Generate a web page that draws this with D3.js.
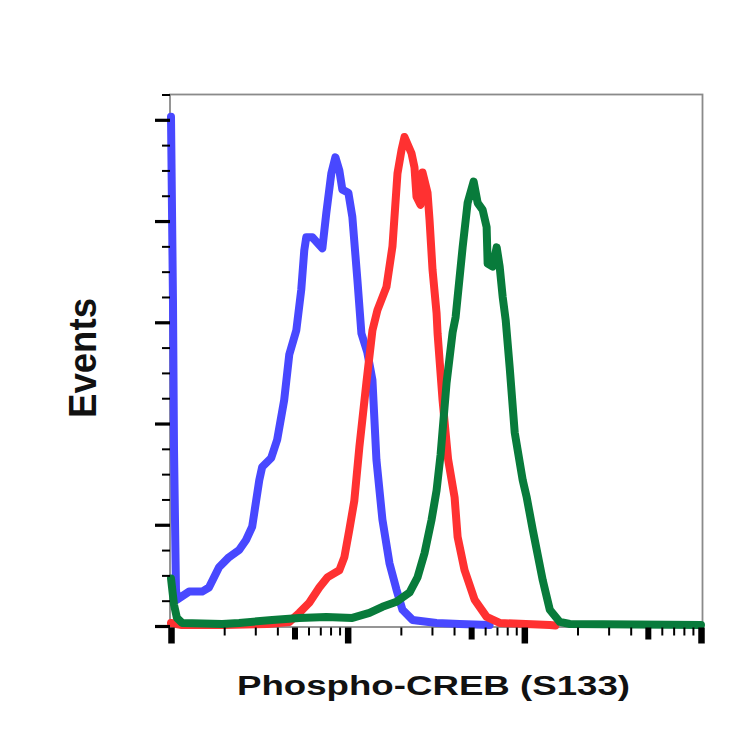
<!DOCTYPE html>
<html lang="en">
<head>
    <meta charset="UTF-8">
    <title>Phospho-CREB (S133) histogram</title>
    <script src="https://d3js.org/d3.v7.min.js"></script>
    <style>
        html, body {
            margin: 0;
            padding: 0;
            background: #fff;
        }

        svg {
            font-family: "Liberation Sans", Arial, sans-serif;
        }

        .axis-label {
            font-weight: bold;
            fill: #111;
        }
    </style>
</head>
<body>
    <div id="chart"></div>

    <script>
        // Series values: [fluorescence, events]
        const blueSeries = [
            [100, 503], [102.6, 322], [104, 174], [106.7, 36], [108.2, 26], [126.5, 34],
            [150, 34], [164, 38], [187, 58], [213, 68], [243, 75], [266, 85], [288, 98],
            [316, 144], [328, 157], [369, 166], [399, 184], [437, 223], [467, 268],
            [512, 292], [546, 332], [568, 371], [583, 384], [631, 384], [719, 373],
            [757, 408], [808, 447], [852, 463], [897, 450], [933, 431], [1009, 428],
            [1063, 404], [1135, 342], [1196, 289], [1293, 270], [1381, 243], [1455, 164],
            [1573, 105], [1724, 62], [1889, 36], [2043, 16], [2328, 6], [3186, 3],
            [4302, 2], [6364, 1]
        ];

        const redSeries = [
            [100, 3], [115, 1], [200, 1], [350, 2], [467, 4], [532, 13], [606, 23],
            [691, 38], [767, 48], [897, 55], [958, 68], [1022, 95], [1091, 124],
            [1165, 177], [1276, 240], [1381, 292], [1474, 312], [1658, 335], [1793, 375],
            [1914, 447], [2017, 470], [2097, 483], [2298, 467], [2389, 453], [2453, 424],
            [2584, 416], [2653, 448], [2832, 428], [2907, 401], [3022, 352], [3186, 309],
            [3228, 289], [3445, 223], [3700, 165], [4030, 127], [4191, 88], [4591, 55],
            [5232, 26], [6118, 9], [7251, 3], [13940, 1], [15000, 0.5]
        ];

        const greenSeries = [
            [100, 47], [104, 21], [108, 8], [115.5, 3], [195, 2], [243, 3], [374, 6],
            [532, 8], [757, 9], [1063, 8], [1328, 13], [1573, 19], [1889, 24],
            [2239, 33], [2485, 48], [2724, 72], [2985, 105], [3186, 134], [3356, 169],
            [3629, 240], [3926, 290], [4083, 305], [4474, 374], [4775, 418], [5164, 439],
            [5441, 418], [5808, 411], [6118, 394], [6199, 358], [6618, 355], [6974, 374],
            [7251, 355], [7541, 325], [7844, 302], [8266, 255], [8823, 191], [9792, 144],
            [10318, 127], [11158, 95], [12718, 45], [13937, 16], [15879, 4], [18092, 2],
            [100000, 1]
        ];

        // Tick values
        const xMajorTicks = [100, 1000, 10000, 100000];
        const xFiveTicks = [500, 5000, 50000];
        const xMinorTicks = [200, 300, 400, 600, 700, 800, 900,
                             2000, 3000, 4000, 6000, 7000, 8000, 9000,
                             20000, 30000, 40000, 60000, 70000, 80000, 90000];
        const yMajorTicks = [0, 100, 200, 300, 400, 500];
        const yMinorTicks = [25, 50, 75, 125, 150, 175, 225, 250, 275,
                             325, 350, 375, 425, 450, 475, 525];

        const xLabel = "Phospho-CREB (S133)";
        const yLabel = "Events";

        const W = 746, H = 746;
        const plot = { left: 171, right: 701, top: 94.5, bottom: 626 };

        const svg = d3.select("#chart")
            .append("svg")
            .attr("width", W)
            .attr("height", H);

        const x = d3.scaleLog().domain([100, 100000]).range([plot.left, plot.right]);
        const y = d3.scaleLinear().domain([0, 525]).range([plot.bottom, plot.top]);

        // Frame
        svg.append("rect")
            .attr("x", plot.left - 1)
            .attr("y", plot.top)
            .attr("width", plot.right + 1.5 - plot.left + 1)
            .attr("height", plot.bottom + 1 - plot.top)
            .attr("fill", "none")
            .attr("stroke", "#8a8a8a")
            .attr("stroke-width", 1.8);

        // Curves (blue under red under green)
        const line = d3.line()
            .x(d => x(d[0]))
            .y(d => y(d[1]));

        [[blueSeries, "#4848ff"], [redSeries, "#ff3131"], [greenSeries, "#087b3b"]]
            .forEach(([data, color]) => {
                svg.append("path")
                    .datum(data)
                    .attr("fill", "none")
                    .attr("stroke", color)
                    .attr("stroke-width", 8)
                    .attr("stroke-linejoin", "round")
                    .attr("stroke-linecap", "round")
                    .attr("d", line);
            });

        // Y axis ticks
        function yTicks(values, size, width) {
            const g = svg.append("g")
                .attr("transform", `translate(${plot.left - 1},0)`)
                .call(d3.axisLeft(y).tickValues(values).tickSize(size).tickFormat(""));
            g.select(".domain").remove();
            g.selectAll("line").attr("stroke", "#000").attr("stroke-width", width);
        }
        yTicks(yMajorTicks, 15, 3.2);
        yTicks(yMinorTicks, 8, 2);

        // X axis ticks
        function xTicks(values, size, width) {
            const g = svg.append("g")
                .attr("transform", `translate(0,${plot.bottom + 1.5})`)
                .call(d3.axisBottom(x).tickValues(values).tickSize(size).tickFormat(""));
            g.select(".domain").remove();
            g.selectAll("line").attr("stroke", "#000").attr("stroke-width", width);
        }
        xTicks(xMajorTicks, 16, 6.5);
        xTicks(xFiveTicks, 12, 6);
        xTicks(xMinorTicks, 8, 2);

        // Axis labels
        svg.append("text")
            .attr("class", "axis-label")
            .attr("x", 433.5)
            .attr("y", 695)
            .attr("text-anchor", "middle")
            .attr("font-size", 27)
            .attr("textLength", 393)
            .attr("lengthAdjust", "spacingAndGlyphs")
            .text(xLabel);

        svg.append("text")
            .attr("class", "axis-label")
            .attr("transform", "translate(96,358) rotate(-90)")
            .attr("text-anchor", "middle")
            .attr("font-size", 38)
            .attr("textLength", 120)
            .attr("lengthAdjust", "spacingAndGlyphs")
            .text(yLabel);
    </script>
</body>
</html>
